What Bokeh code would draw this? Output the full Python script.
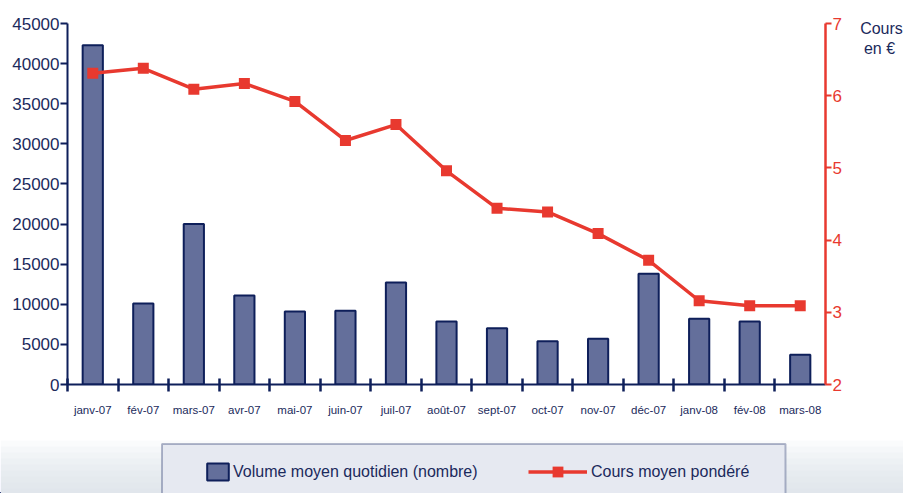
from bokeh.plotting import figure
from bokeh.layouts import column, row
from bokeh.models import (Range1d, LinearAxis, FixedTicker, Legend, LegendItem,
                          BoxAnnotation, Label, ColumnDataSource)
from bokeh.embed import file_html
from bokeh.resources import INLINE

# ---- data ----
months = ["janv-07", "fév-07", "mars-07", "avr-07", "mai-07", "juin-07", "juil-07",
          "août-07", "sept-07", "oct-07", "nov-07", "déc-07", "janv-08", "fév-08", "mars-08"]
volume = [42300, 10100, 20000, 11100, 9100, 9200, 12700, 7850, 7000, 5400, 5700,
          13800, 8200, 7850, 3700]
cours = [6.31, 6.38, 6.09, 6.17, 5.92, 5.38, 5.60, 4.96, 4.44, 4.39, 4.09, 3.72,
         3.16, 3.09, 3.09]
vol_ticks = [0, 5000, 10000, 15000, 20000, 25000, 30000, 35000, 40000, 45000]
cours_ticks = [2, 3, 4, 5, 6, 7]
label_volume = "Volume moyen quotidien (nombre)"
label_cours = "Cours moyen pondéré"
unit_lines = ["Cours", "en €"]

NAVY = "#1b2a5c"
NAVY_LINE = "#0e1f5a"
BAR_FILL = "#646f9b"
RED = "#e8392f"
FONT = "Liberation Sans"

n = len(months)
xc = [i + 0.5 for i in range(n)]
bounds = list(range(0, n))
src = ColumnDataSource(dict(x=xc, month=months, volume=volume, cours=cours))


def no_align(fig):
    if "frame_align" in fig.properties():
        fig.frame_align = False


def bare(fig):
    fig.grid.grid_line_color = None
    fig.outline_line_color = None
    fig.background_fill_color = "white"
    fig.border_fill_color = "white"
    no_align(fig)


# ================= main chart =================
p = figure(width=859, height=435, output_backend="svg", toolbar_location=None,
           x_range=Range1d(0, n), y_range=Range1d(0, 45000),
           min_border_left=67, min_border_right=34, min_border_top=23,
           min_border_bottom=51)
p.extra_y_ranges = {"cours": Range1d(2, 7)}
bare(p)

ya = p.yaxis[0]
ya.ticker = FixedTicker(ticks=vol_ticks)
ya.axis_line_color = NAVY_LINE
ya.axis_line_width = 2
ya.major_tick_line_color = NAVY_LINE
ya.major_tick_line_width = 2
ya.major_tick_out = 7
ya.major_tick_in = 0
ya.minor_tick_line_color = None
ya.major_label_standoff = 1
ya.major_label_text_font = FONT
ya.major_label_text_font_size = "17px"
ya.major_label_text_color = NAVY

xa = p.xaxis[0]
xa.ticker = FixedTicker(ticks=xc, minor_ticks=bounds)
xa.major_label_overrides = {x: m for x, m in zip(xc, months)}
xa.axis_line_color = NAVY_LINE
xa.axis_line_width = 2
xa.major_tick_line_color = None
xa.major_tick_in = 0
xa.major_tick_out = 0
xa.minor_tick_line_color = NAVY_LINE
xa.minor_tick_line_width = 2.5
xa.minor_tick_in = 6
xa.minor_tick_out = 7
xa.major_label_standoff = 12
xa.major_label_text_font = FONT
xa.major_label_text_font_size = "11.5px"
xa.major_label_text_color = NAVY

yr = LinearAxis(y_range_name="cours", ticker=FixedTicker(ticks=cours_ticks))
yr.axis_line_color = RED
yr.axis_line_width = 2.5
yr.major_tick_line_color = RED
yr.major_tick_line_width = 2
yr.major_tick_out = 6
yr.major_tick_in = 0
yr.minor_tick_line_color = None
yr.major_label_standoff = 1
yr.major_label_text_font = FONT
yr.major_label_text_font_size = "17px"
yr.major_label_text_color = RED
p.add_layout(yr, "right")

bar_style = dict(fill_color=BAR_FILL, line_color=NAVY_LINE, line_width=2)
line_style = dict(line_color=RED, line_width=3.5)
pt_style = dict(marker="square", size=11, fill_color=RED, line_color=None)

p.vbar(x="x", top="volume", bottom=0, width=0.40, source=src, **bar_style)
p.line(x="x", y="cours", source=src, y_range_name="cours", **line_style)
p.scatter(x="x", y="cours", source=src, y_range_name="cours", **pt_style)

# ================= unit text at top right =================
s = figure(width=44, height=435, output_backend="svg", toolbar_location=None,
           x_range=Range1d(0, 44), y_range=Range1d(435, 0),
           x_axis_location=None, y_axis_location=None,
           min_border=0, min_border_left=0, min_border_right=0,
           min_border_top=0, min_border_bottom=0)
bare(s)
for txt, cx, by in zip(unit_lines, [22, 20], [28, 48]):
    s.add_layout(Label(x=cx, y=by, text=txt, text_align="center",
                       text_baseline="alphabetic", text_font=FONT,
                       text_font_size="16px", text_color=NAVY))

# ================= legend strip =================
q = figure(width=903, height=58, output_backend="svg", toolbar_location=None,
           x_range=Range1d(0, 903), y_range=Range1d(58, 0),
           x_axis_location=None, y_axis_location=None,
           min_border=0, min_border_left=0, min_border_right=0,
           min_border_top=0, min_border_bottom=0)
bare(q)
q.extra_x_ranges = {"offx": Range1d(100, 101)}
q.extra_y_ranges = {"offy": Range1d(1e6, 1.1e6)}

for k in range(9):
    q.add_layout(BoxAnnotation(top=5 + 6 * k, bottom=70,
                               fill_color="#d6dbe7", fill_alpha=0.12,
                               line_color=None))
q.add_layout(BoxAnnotation(left=161.5, right=785, top=8.5, bottom=70,
                           fill_color="#e6e9f1", fill_alpha=1,
                           line_color=NAVY_LINE, line_width=2))

# legend proxies (same data, mapped far outside the visible strip)
off = dict(x_range_name="offx", y_range_name="offy")
bars_l = q.vbar(x="x", top="volume", bottom=0, width=0.40, source=src, **off, **bar_style)
line_l = q.line(x="x", y="cours", source=src, **off, **line_style)
pts_l = q.scatter(x="x", y="cours", source=src, **off, **pt_style)

common = dict(orientation="horizontal", padding=0, margin=0, spacing=0,
              border_line_color=None, background_fill_alpha=0,
              label_text_font=FONT, label_text_font_size="16px",
              label_text_color=NAVY)
legB = Legend(items=[LegendItem(label=label_volume, renderers=[bars_l])],
              location=(204, 11), glyph_width=27, glyph_height=21,
              label_standoff=2, **common)
legC = Legend(items=[LegendItem(label=label_cours, renderers=[line_l, pts_l])],
              location=(528, 8), glyph_width=59, glyph_height=27,
              label_standoff=4, **common)
q.add_layout(legB)
q.add_layout(legC)

layout = column(row(p, s, spacing=0), q, spacing=0)
open("out.html", "w").write(file_html(layout, INLINE))
